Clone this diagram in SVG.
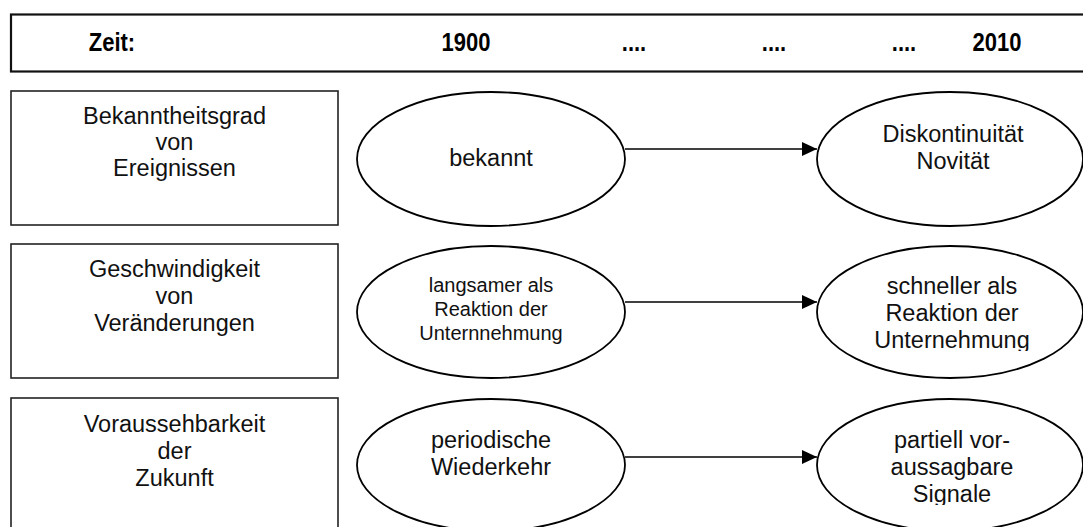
<svg xmlns="http://www.w3.org/2000/svg" width="1083" height="527" viewBox="0 0 1083 527">
<style>
.box{fill:#fff;stroke:#222;stroke-width:1.6}
.bar{fill:#fff;stroke:#111;stroke-width:2.2}
.ell{fill:#fff;stroke:#000;stroke-width:1.8}
.t{font-family:"Liberation Sans",Arial,sans-serif;font-size:23.5px;fill:#111;text-anchor:middle}
.s{font-family:"Liberation Sans",Arial,sans-serif;font-size:20px;fill:#111;text-anchor:middle}
.b{font-family:"Liberation Sans",Arial,sans-serif;font-size:22px;font-weight:bold;fill:#000;text-anchor:middle}
.con{stroke:#000;stroke-width:1.6;fill:none}
</style>
<defs>
<marker id="arr" viewBox="0 0 15 14" refX="15" refY="7" markerWidth="15" markerHeight="14" markerUnits="userSpaceOnUse" orient="auto">
<path d="M0,0 L15,7 L0,14 Z" fill="#000"/>
</marker>
<clipPath id="c2"><rect x="817" y="246" width="266" height="105"/></clipPath>
<clipPath id="c3"><rect x="817" y="399" width="266" height="106"/></clipPath>
</defs>
<rect width="1083" height="527" fill="#fff"/>
<g id="header">
<rect class="bar" x="11" y="14.5" width="1080" height="57"/>
<g transform="translate(0,51) scale(1,1.15)">
<text class="b" x="112" y="0">Zeit:</text>
<text class="b" x="466" y="0">1900</text>
<text class="b" x="634" y="0">....</text>
<text class="b" x="774" y="0">....</text>
<text class="b" x="904" y="0">....</text>
<text class="b" x="997" y="0">2010</text>
</g>
</g>
<g id="label1">
<rect class="box" x="11" y="91" width="327" height="134"/>
<text class="t" x="174.5" y="124">Bekanntheitsgrad</text>
<text class="t" x="174.5" y="150">von</text>
<text class="t" x="174.5" y="176">Ereignissen</text>
</g>
<g id="label2">
<rect class="box" x="11" y="244" width="327" height="134"/>
<text class="t" x="174.5" y="277">Geschwindigkeit</text>
<text class="t" x="174.5" y="304">von</text>
<text class="t" x="174.5" y="331">Veränderungen</text>
</g>
<g id="label3">
<rect class="box" x="11" y="398" width="327" height="140"/>
<text class="t" x="174.5" y="432">Voraussehbarkeit</text>
<text class="t" x="174.5" y="459">der</text>
<text class="t" x="174.5" y="486">Zukunft</text>
</g>
<g id="e1a">
<ellipse class="ell" cx="491" cy="159" rx="134" ry="67"/>
<text class="t" x="491" y="166">bekannt</text>
</g>
<g id="e1b">
<ellipse class="ell" cx="950" cy="159" rx="133" ry="67"/>
<text class="t" x="953" y="142">Diskontinuität</text>
<text class="t" x="953" y="169">Novität</text>
</g>
<g id="e2a">
<ellipse class="ell" cx="491" cy="312" rx="134" ry="66"/>
<text class="s" x="491" y="292">langsamer als</text>
<text class="s" x="491" y="316">Reaktion der</text>
<text class="s" x="491" y="340">Unternnehmung</text>
</g>
<g id="e2b">
<ellipse class="ell" cx="950" cy="312" rx="133" ry="66"/>
<g clip-path="url(#c2)">
<text class="t" x="952" y="294">schneller als</text>
<text class="t" x="952" y="321">Reaktion der</text>
<text class="t" x="952" y="348">Unternehmung</text>
</g>
</g>
<g id="e3a">
<ellipse class="ell" cx="491" cy="465" rx="134" ry="66"/>
<text class="t" x="491" y="448">periodische</text>
<text class="t" x="491" y="475">Wiederkehr</text>
</g>
<g id="e3b">
<ellipse class="ell" cx="950" cy="465" rx="133" ry="66"/>
<g clip-path="url(#c3)">
<text class="t" x="952" y="448">partiell vor-</text>
<text class="t" x="952" y="475">aussagbare</text>
<text class="t" x="952" y="502">Signale</text>
</g>
</g>
<g id="connectors">
<line class="con" x1="625" y1="149" x2="817" y2="149" marker-end="url(#arr)"/>
<line class="con" x1="625" y1="302" x2="817" y2="302" marker-end="url(#arr)"/>
<line class="con" x1="625" y1="457" x2="817" y2="457" marker-end="url(#arr)"/>
</g>
</svg>
